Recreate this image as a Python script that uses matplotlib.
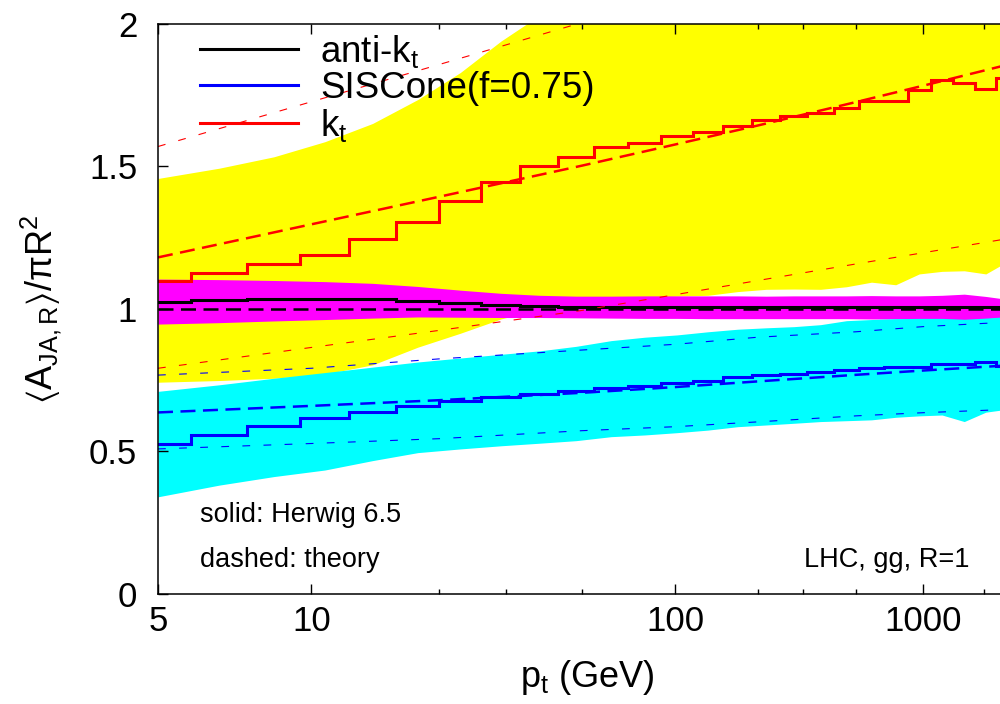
import numpy as np
import matplotlib
matplotlib.use('Agg')
import matplotlib.pyplot as plt

plt.rcParams['font.family'] = ['Liberation Sans', 'DejaVu Sans']
plt.rcParams['mathtext.fontset'] = 'custom'
plt.rcParams['mathtext.rm'] = 'Liberation Sans'
plt.rcParams['mathtext.it'] = 'Liberation Sans:italic'
plt.rcParams['mathtext.fallback'] = 'stixsans'

# x axis is linear in ln ln(pt / Lambda)
LAMBDA = 0.2

# Herwig histogram bins (GeV)
bin_edges = [4.46, 5.73, 7.36, 9.45, 12.13, 15.58, 20.0, 25.68, 32.97, 42.34, 54.37,
             69.81, 89.63, 115.1, 147.8, 189.7, 243.6, 312.8, 401.7, 515.8, 662.3,
             850.4, 1092, 1402, 1800, 2311, 2967]
herwig_antikt = [1.026, 1.032, 1.036, 1.036, 1.036, 1.028, 1.022, 1.015, 1.011, 1.007,
                 1.007, 1.007, 1.006, 1.007, 1.007, 1.006, 1.007, 1.007, 1.006, 1.007,
                 1.007, 1.006, 1.007, 1.006, 1.006, 1.006]
herwig_siscone = [0.526, 0.558, 0.589, 0.619, 0.640, 0.660, 0.677, 0.692, 0.702, 0.713,
                  0.723, 0.731, 0.741, 0.748, 0.760, 0.767, 0.773, 0.780, 0.786, 0.792,
                  0.796, 0.796, 0.806, 0.806, 0.813, 0.801]
herwig_kt = [1.099, 1.125, 1.157, 1.189, 1.246, 1.306, 1.379, 1.447, 1.503, 1.534,
             1.567, 1.581, 1.608, 1.620, 1.643, 1.664, 1.678, 1.689, 1.706, 1.731,
             1.731, 1.768, 1.805, 1.792, 1.771, 1.809]

# spread bands (at bin centres)
band_pt = [5.0, 6.49, 8.34, 10.71, 13.74, 17.65, 22.66, 29.10, 37.36, 47.98, 61.61,
           79.10, 101.6, 130.4, 167.5, 214.9, 276.0, 354.4, 455.2, 584.5, 750.5,
           963.6, 1237, 1589, 2040, 2619, 3362]
kt_hi = [1.458, 1.494, 1.534, 1.587, 1.651, 1.735, 1.83, 1.94, 2.03, 2.10, 2.15, 2.20,
         2.24, 2.28, 2.31, 2.34, 2.37, 2.40, 2.42, 2.44, 2.46, 2.48, 2.50, 2.52, 2.54,
         2.56, 2.58]
kt_lo = [0.743, 0.749, 0.757, 0.772, 0.804, 0.866, 0.915, 0.965, 1.00, 1.02, 1.035,
         1.04, 1.045, 1.048, 1.061, 1.069, 1.070, 1.069, 1.078, 1.094, 1.085, 1.123,
         1.132, 1.134, 1.123, 1.165, 1.17]
akt_hi = [1.105, 1.103, 1.100, 1.096, 1.090, 1.079, 1.066, 1.055, 1.048, 1.045, 1.045,
          1.046, 1.046, 1.046, 1.046, 1.045, 1.046, 1.046, 1.046, 1.047, 1.046, 1.046,
          1.048, 1.052, 1.044, 1.034, 1.03]
akt_lo = [0.947, 0.952, 0.958, 0.963, 0.968, 0.972, 0.971, 0.970, 0.970, 0.969, 0.968,
          0.967, 0.967, 0.966, 0.966, 0.966, 0.966, 0.966, 0.966, 0.965, 0.965, 0.964,
          0.963, 0.961, 0.966, 0.970, 0.97]
sis_hi = [0.711, 0.734, 0.757, 0.777, 0.796, 0.814, 0.828, 0.841, 0.853, 0.869, 0.889,
          0.901, 0.909, 0.920, 0.929, 0.934, 0.938, 0.945, 0.959, 0.963, 0.966, 0.967,
          0.967, 0.964, 0.968, 0.973, 0.975]
sis_lo = [0.341, 0.382, 0.412, 0.435, 0.468, 0.496, 0.509, 0.520, 0.529, 0.538, 0.552,
          0.558, 0.566, 0.575, 0.587, 0.593, 0.599, 0.605, 0.608, 0.611, 0.620, 0.625,
          0.628, 0.605, 0.638, 0.648, 0.65]

# theory curves
th_pt = [5, 10, 20, 50, 100, 200, 500, 1000, 2500]
th_kt = [1.181, 1.297, 1.394, 1.503, 1.577, 1.644, 1.726, 1.783, 1.853]
th_kt_hi = [1.570, 1.727, 1.858, 2.005, 2.10, 2.19, 2.29, 2.36, 2.45]
th_kt_lo = [0.792, 0.865, 0.925, 0.995, 1.050, 1.100, 1.158, 1.197, 1.244]
th_akt = [1.0, 1.0, 1.0, 1.0, 1.0, 1.0, 1.0, 1.0, 1.0]
th_sis = [0.637, 0.660, 0.680, 0.706, 0.726, 0.746, 0.769, 0.784, 0.801]
th_sis_hi = [0.768, 0.792, 0.825, 0.856, 0.876, 0.901, 0.920, 0.938, 0.953]
th_sis_lo = [0.509, 0.528, 0.545, 0.573, 0.587, 0.604, 0.625, 0.636, 0.647]

major_ticks = [5, 10, 100, 1000]
minor_ticks = [20, 30, 50, 200, 300, 500, 2000]


def fwd(x):
    x = np.asarray(x, dtype=float)
    with np.errstate(divide='ignore', invalid='ignore'):
        return np.log(np.log(x / LAMBDA))


def inv(y):
    return LAMBDA * np.exp(np.exp(y))


fig = plt.figure(figsize=(10, 7.04), dpi=100)
ax = fig.add_axes([0.158, 0.15625, 0.842, 0.8097])
ax.set_xscale('function', functions=(fwd, inv))

# bands
ax.fill_between(band_pt, kt_lo, kt_hi, color='#ffff00', lw=0)
ax.fill_between(band_pt, akt_lo, akt_hi, color='#ff00ff', lw=0)
ax.fill_between(band_pt, sis_lo, sis_hi, color='#00ffff', lw=0)

# theory
thin = dict(lw=0.8, dashes=(7, 12))
thick = dict(lw=1.8, dashes=(6, 3))
ax.plot(th_pt, th_kt_hi, color='red', **thin)
ax.plot(th_pt, th_kt_lo, color='red', **thin)
ax.plot(th_pt, th_sis_hi, color='blue', **thin)
ax.plot(th_pt, th_sis_lo, color='blue', **thin)
ax.plot(th_pt, th_kt, color='red', **thick)
ax.plot(th_pt, th_sis, color='blue', **thick)
ax.plot(th_pt, th_akt, color='black', **thick)

# Herwig
h1 = ax.stairs(herwig_antikt, bin_edges, color='black', lw=2.2, baseline=None,
               label=r'anti-k$\mathregular{_t}$')
h2 = ax.stairs(herwig_siscone, bin_edges, color='blue', lw=2.2, baseline=None,
               label='SISCone(f=0.75)')
h3 = ax.stairs(herwig_kt, bin_edges, color='red', lw=2.2, baseline=None,
               label=r'k$\mathregular{_t}$')

ax.set_xlim(5, 2413)
ax.set_ylim(0, 2)
ax.set_xticks(major_ticks)
ax.set_xticklabels([str(t) for t in major_ticks])
ax.set_xticks(minor_ticks, minor=True)
ax.set_yticks([0, 0.5, 1, 1.5, 2])
ax.set_yticklabels(['0', '0.5', '1', '1.5', '2'])
ax.tick_params(which='both', direction='in', top=True, right=False, width=1.0)
ax.tick_params(which='major', length=7, labelsize=25)
ax.tick_params(which='minor', length=3.5)
ax.tick_params(axis='x', pad=8)
ax.tick_params(axis='y', pad=15)
ax.spines['right'].set_visible(False)
for s in ['left', 'top', 'bottom']:
    ax.spines[s].set_linewidth(1.1)

ax.set_xlabel(r'p$\mathregular{_t}$ (GeV)', fontsize=26)
ax.xaxis.set_label_coords(0.51, -0.112)
ax.set_ylabel(r'$\mathregular{\langle A_{JA,R}\rangle/\pi R^2}$', fontsize=26)
ax.yaxis.set_label_coords(-0.112, 0.5)

ax.legend(handles=[h1, h2, h3], loc='upper left', bbox_to_anchor=(0.05, 0.985),
          frameon=False, fontsize=26.5, handlelength=2.65, handletextpad=0.62,
          labelspacing=0.03, borderpad=0, borderaxespad=0)

ax.text(0.05, 0.127, 'solid: Herwig 6.5', transform=ax.transAxes, fontsize=19.5,
        va='baseline')
ax.text(0.05, 0.048, 'dashed: theory', transform=ax.transAxes, fontsize=19.5,
        va='baseline')
ax.text(0.964, 0.048, 'LHC, gg, R=1', transform=ax.transAxes, fontsize=19.5,
        va='baseline', ha='right')

fig.savefig('out.png', dpi=100)
